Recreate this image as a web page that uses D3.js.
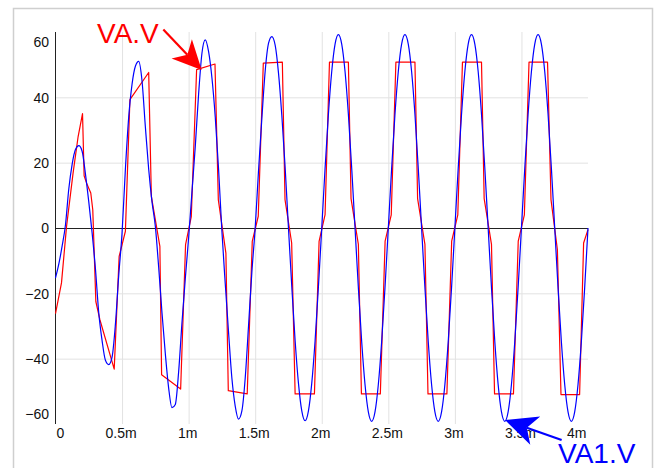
<!DOCTYPE html>
<html><head><meta charset="utf-8">
<script src="https://cdn.jsdelivr.net/npm/d3@7"></script>
<style>
html,body{margin:0;padding:0;background:#fff;}
svg{display:block;font-family:"Liberation Sans",Arial,sans-serif;}
</style></head>
<body><svg id="c" width="661" height="468"></svg>
<script>
// ---- data (time in ms, value in V) ----
const xTickVals = [0, 0.5, 1, 1.5, 2, 2.5, 3, 3.5, 4];
const xTickLabels = ["0", "0.5m", "1m", "1.5m", "2m", "2.5m", "3m", "3.5m", "4m"];
const yTickVals = [-60, -40, -20, 0, 20, 40, 60];
const seriesNames = ["VA.V", "VA1.V"];

// VA1.V (blue)
const va1 = [
[0,-15.3],[0.025,-11],[0.05,-5.5],[0.075,1],[0.1,12],[0.125,19.5],[0.15,24],[0.175,25.2],[0.2,23.5],[0.225,16.5],
[0.25,8],[0.275,-1.5],[0.3,-12.5],[0.325,-26],[0.35,-34.5],[0.375,-40.5],[0.4,-41.8],[0.425,-39.5],[0.45,-29.5],[0.475,-14.5],
[0.5,-1.5],[0.525,18],[0.55,34],[0.575,44],[0.6,49.5],[0.625,51],[0.65,45],[0.675,31],[0.7,18],[0.725,8],
[0.75,0.5],[0.775,-12],[0.8,-26],[0.825,-38.5],[0.85,-49],[0.875,-55],[0.9,-54],[0.925,-44],[0.95,-29],[0.975,-15.5],
[1.0,-3],[1.025,11],[1.05,25],[1.075,41],[1.1,53.5],[1.125,57.6],[1.15,54],[1.175,46],[1.2,34],[1.225,18],
[1.25,-1],[1.275,-17],[1.3,-32],[1.325,-46],[1.35,-54.5],[1.375,-58.5],[1.4,-56],[1.425,-46],[1.45,-30],[1.475,-13.5],
[1.5,0],[1.525,17.5],[1.55,33.5],[1.575,48],[1.6,56.5],[1.625,58.6],[1.65,56],[1.675,47.5],[1.7,34.5],[1.725,18.5],
[1.75,0],[1.775,-18],[1.8,-34.5],[1.825,-47.5],[1.85,-56],[1.875,-59],[1.9,-56],[1.925,-47.5],[1.95,-34.5],[1.975,-18],
[2.0,0],[2.025,18.3],[2.05,34.8],[2.075,47.9],[2.1,56.3],[2.125,59.2],[2.15,56.3],[2.175,47.9],[2.2,34.8],[2.225,18.3],
[2.25,0],[2.275,-18.3],[2.3,-34.8],[2.325,-47.9],[2.35,-56.3],[2.375,-59.2],[2.4,-56.3],[2.425,-47.9],[2.45,-34.8],[2.475,-18.3],
[2.5,0],[2.525,18.3],[2.55,34.8],[2.575,47.9],[2.6,56.3],[2.625,59.2],[2.65,56.3],[2.675,47.9],[2.7,34.8],[2.725,18.3],
[2.75,0],[2.775,-18.3],[2.8,-34.8],[2.825,-47.9],[2.85,-56.3],[2.875,-59.2],[2.9,-56.3],[2.925,-47.9],[2.95,-34.8],[2.975,-18.3],
[3.0,0],[3.025,18.3],[3.05,34.8],[3.075,47.9],[3.1,56.3],[3.125,59.2],[3.15,56.3],[3.175,47.9],[3.2,34.8],[3.225,18.3],
[3.25,0],[3.275,-18.3],[3.3,-34.8],[3.325,-47.9],[3.35,-56.3],[3.375,-59.2],[3.4,-56.3],[3.425,-47.9],[3.45,-34.8],[3.475,-18.3],
[3.5,0],[3.525,18.3],[3.55,34.8],[3.575,47.9],[3.6,56.3],[3.625,59.2],[3.65,56.3],[3.675,47.9],[3.7,34.8],[3.725,18.3],
[3.75,0],[3.775,-18.3],[3.8,-34.8],[3.825,-47.9],[3.85,-56.3],[3.875,-59.2],[3.9,-56.3],[3.925,-47.9],[3.95,-34.8],[3.975,-18.3],
[4.0,0]
];

// VA.V (red)
const va = [
[0,-26.2],[0.045,-16.8],[0.083,0.5],[0.132,16.8],[0.17,28],[0.203,35],[0.215,16],[0.233,13.8],[0.265,10.7],[0.28,5.6],
[0.303,-22.5],[0.333,-28],[0.441,-43.2],[0.478,-8.7],[0.503,-4.6],[0.525,-1],[0.559,39.3],[0.70,47.6],[0.72,9.7],[0.784,-5.6],
[0.797,-44.9],[0.94,-49.3],[0.977,-5.1],[1.02,3.5],[1.06,48.5],[1.198,50.2],[1.223,8.7],[1.28,-7.7],[1.298,-49.8],[1.44,-50.8],
[1.478,-4.1],[1.523,3.6],[1.561,50.5],[1.704,50.8],[1.724,8.7],[1.774,-4.6],[1.80,-50.8],[1.945,-50.8],[1.98,-4.1],[2.025,4.1],
[2.058,50.8],[2.2,50.8],[2.22,9],[2.275,-5],[2.298,-50.8],[2.44,-50.8],[2.476,-4],[2.522,4],[2.557,50.8],
[2.7,50.8],[2.72,9],[2.775,-5],[2.798,-50.8],[2.94,-50.8],[2.976,-4],[3.022,4],[3.057,50.8],
[3.2,50.8],[3.22,9],[3.275,-5],[3.298,-50.8],[3.44,-50.8],[3.476,-4],[3.522,4],[3.557,50.8],
[3.696,50.8],[3.722,8.7],[3.77,-6.6],[3.797,-51],[3.937,-51],[3.967,-4.6],[4.0,-0.5]
];

// annotation anchors (data coordinates): label position, arrow tail, arrow tip
const annRed  = {label:[0.312, 56.6], tail:[0.810, 60.8], tip:[1.098, 48.4]};
const annBlue = {label:[3.775, -71.8], tail:[3.802, -64.9], tip:[3.377, -58.8]};

// ---- layout ----
const svg = d3.select("#c");
const L = 55.5, R = 588, T = 32, B = 424;
const x = d3.scaleLinear().domain([0, 4]).range([L, R]);
const y = d3.scaleLinear().domain([-60, 60]).range([B, T]);
const font = "14px";

// outer frame
svg.append("rect").attr("x",13.5).attr("y",8.5).attr("width",639).attr("height",475)
  .attr("fill","none").attr("stroke","#cfcfcf").attr("stroke-width",1.5);

// grid
const grid = svg.append("g");
grid.append("g").attr("transform",`translate(0,${B})`)
  .call(d3.axisBottom(x).tickValues(xTickVals.filter(v=>v>0 && v<4)).tickSize(-(B-T)).tickFormat(""))
  .call(g=>g.select(".domain").remove())
  .call(g=>g.selectAll("line").attr("stroke","#e2e2e2").attr("stroke-width",1));
grid.append("g").attr("transform",`translate(${L},0)`)
  .call(d3.axisLeft(y).tickValues(yTickVals.filter(v=>v!==0 && Math.abs(v)<60)).tickSize(-(R-L)).tickFormat(""))
  .call(g=>g.select(".domain").remove())
  .call(g=>g.selectAll("line").attr("stroke","#e2e2e2").attr("stroke-width",1));

// axes lines
svg.append("line").attr("x1",L).attr("x2",L).attr("y1",T).attr("y2",B).attr("stroke","#222").attr("stroke-width",1);
svg.append("line").attr("x1",L).attr("x2",R).attr("y1",Math.round(y(0))+0.5).attr("y2",Math.round(y(0))+0.5).attr("stroke","#222").attr("stroke-width",1);

// x labels
const xa = svg.append("g").attr("transform",`translate(0,${B})`)
  .call(d3.axisBottom(x).tickValues(xTickVals).tickSize(0).tickPadding(4).tickFormat((d,i)=>xTickLabels[i]));
xa.select(".domain").remove();
xa.selectAll("text").attr("font-size",font).attr("font-family","Liberation Sans, Arial, sans-serif").attr("fill","#111")
  .attr("dx",-1.5)
  .each(function(d,i){
    if(i===0) d3.select(this).attr("text-anchor","start").attr("dx",0.5);
    if(i===xTickVals.length-1) d3.select(this).attr("text-anchor","end").attr("dx",-2);
  });

// y labels
const ya = svg.append("g").attr("transform",`translate(${L},0)`)
  .call(d3.axisLeft(y).tickValues(yTickVals).tickSize(0).tickPadding(6.5));
ya.select(".domain").remove();
ya.selectAll("text").attr("font-size",font).attr("font-family","Liberation Sans, Arial, sans-serif").attr("fill","#111")
  .attr("dy",d=> d===60 ? "1.05em" : d===-60 ? "-0.4em" : "0.35em");

// series
const lineR = d3.line().x(d=>x(d[0])).y(d=>y(d[1])).curve(d3.curveLinear);
const lineB = d3.line().x(d=>x(d[0])).y(d=>y(d[1])).curve(d3.curveMonotoneX);
svg.append("path").datum(va).attr("d",lineR).attr("fill","none").attr("stroke","#ff0000").attr("stroke-width",1.2).attr("stroke-linejoin","round");
svg.append("path").datum(va1).attr("d",lineB).attr("fill","none").attr("stroke","#0000ff").attr("stroke-width",1.2).attr("stroke-linejoin","round");

// annotations
function arrow(a, color, headLen, headW){
  const [tx,ty] = [x(a.tail[0]), y(a.tail[1])];
  const [px,py] = [x(a.tip[0]), y(a.tip[1])];
  const dx = px-tx, dy = py-ty, len = Math.hypot(dx,dy);
  const ux = dx/len, uy = dy/len, nx = -uy, ny = ux;
  const bx = px-ux*headLen, by = py-uy*headLen;
  const nxp = px-ux*headLen*0.72, nyp = py-uy*headLen*0.72;
  svg.append("line").attr("x1",tx).attr("y1",ty).attr("x2",nxp).attr("y2",nyp)
    .attr("stroke",color).attr("stroke-width",2.2);
  svg.append("path").attr("d",`M${px},${py}L${bx+nx*headW},${by+ny*headW}L${nxp},${nyp}L${bx-nx*headW},${by-ny*headW}Z`)
    .attr("fill",color);
}
arrow(annRed, "#ff0000", 29, 14);
arrow(annBlue, "#0000ff", 32, 15);
svg.append("text").attr("x",x(annRed.label[0])).attr("y",y(annRed.label[1]))
  .attr("font-size","28px").attr("fill","#ff0000").text(seriesNames[0]);
svg.append("text").attr("x",x(annBlue.label[0])).attr("y",y(annBlue.label[1]))
  .attr("font-size","28px").attr("fill","#0000ff").text(seriesNames[1]);
</script>
</body></html>
